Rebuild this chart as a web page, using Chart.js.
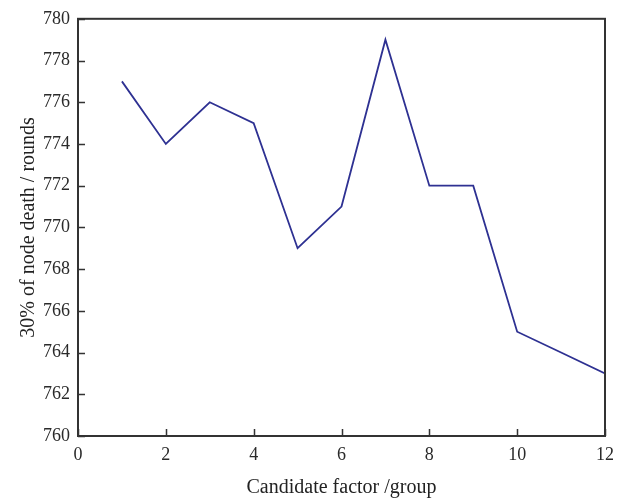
<!DOCTYPE html>
<html>
<head>
<meta charset="utf-8">
<script src="https://cdn.jsdelivr.net/npm/chart.js@4/dist/chart.umd.min.js"></script>
<style>
  html, body { margin: 0; padding: 0; background: #fff; }
  #wrap { width: 628px; height: 503px; }
</style>
</head>
<body>
<div id="wrap"><canvas id="graphCanvas"></canvas></div>
<script>
// data
var candidate_factor = [1, 2, 3, 4, 5, 6, 7, 8, 9, 10, 11, 12];
var death_rounds = [777, 774, 776, 775, 769, 771, 779, 772, 772, 765, 764, 763];
var x_ticks = [0, 2, 4, 6, 8, 10, 12];
var y_ticks = [760, 762, 764, 766, 768, 770, 772, 774, 776, 778, 780];

var points = [];
for (var i in candidate_factor) {
    points.push({ x: candidate_factor[i], y: death_rounds[i] });
}

var serif = "'Liberation Serif', 'DejaVu Serif', serif";
var axisColor = '#333';

// frame + inward tick marks
var framePlugin = {
    id: 'frame',
    afterDraw: function(chart) {
        var ctx = chart.ctx;
        var a = chart.chartArea;
        var xs = chart.scales.x, ys = chart.scales.y;
        ctx.save();
        ctx.strokeStyle = axisColor;
        ctx.lineWidth = 2;
        ctx.strokeRect(a.left, a.top, a.right - a.left, a.bottom - a.top);
        ctx.lineWidth = 1.5;
        ctx.beginPath();
        x_ticks.forEach(function(v) {
            var px = Math.round(xs.getPixelForValue(v)) + 0.5;
            ctx.moveTo(px, a.bottom);
            ctx.lineTo(px, a.bottom - 7);
        });
        y_ticks.forEach(function(v) {
            var py = Math.round(ys.getPixelForValue(v)) + 0.5;
            ctx.moveTo(a.left, py);
            ctx.lineTo(a.left + 7, py);
        });
        ctx.stroke();
        ctx.restore();
    }
};

new Chart(document.getElementById('graphCanvas'), {
    type: 'line',
    data: {
        datasets: [{
            label: '30% of node death',
            data: points,
            borderColor: '#2e3192',
            borderWidth: 1.8,
            pointRadius: 0,
            fill: false,
            tension: 0
        }]
    },
    options: {
        responsive: true,
        maintainAspectRatio: false,
        animation: false,
        layout: { padding: { left: 0, right: 23, top: 13, bottom: 0 } },
        plugins: {
            legend: { display: false },
            tooltip: { enabled: false }
        },
        scales: {
            x: {
                type: 'linear',
                min: 0,
                max: 12,
                afterBuildTicks: function(s) { s.ticks = x_ticks.map(function(v) { return { value: v }; }); },
                afterFit: function(s) { s.height = 67; },
                grid: { drawOnChartArea: false, drawTicks: false },
                border: { display: false },
                ticks: { color: '#2a2a2a', padding: 8, maxRotation: 0, font: { family: serif, size: 18 } },
                title: {
                    display: true,
                    text: 'Candidate factor /group',
                    color: '#222',
                    padding: { top: 0, bottom: 3 },
                    font: { family: serif, size: 20 }
                }
            },
            y: {
                min: 760,
                max: 780,
                afterBuildTicks: function(s) { s.ticks = y_ticks.map(function(v) { return { value: v }; }); },
                afterFit: function(s) { s.width = 78; },
                grid: { drawOnChartArea: false, drawTicks: false },
                border: { display: false },
                ticks: { color: '#2a2a2a', padding: 8, font: { family: serif, size: 18 } },
                title: {
                    display: true,
                    text: '30% of node death / rounds',
                    color: '#222',
                    padding: { top: 17, bottom: 0 },
                    font: { family: serif, size: 20 }
                }
            }
        }
    },
    plugins: [framePlugin]
});
</script>
</body>
</html>
